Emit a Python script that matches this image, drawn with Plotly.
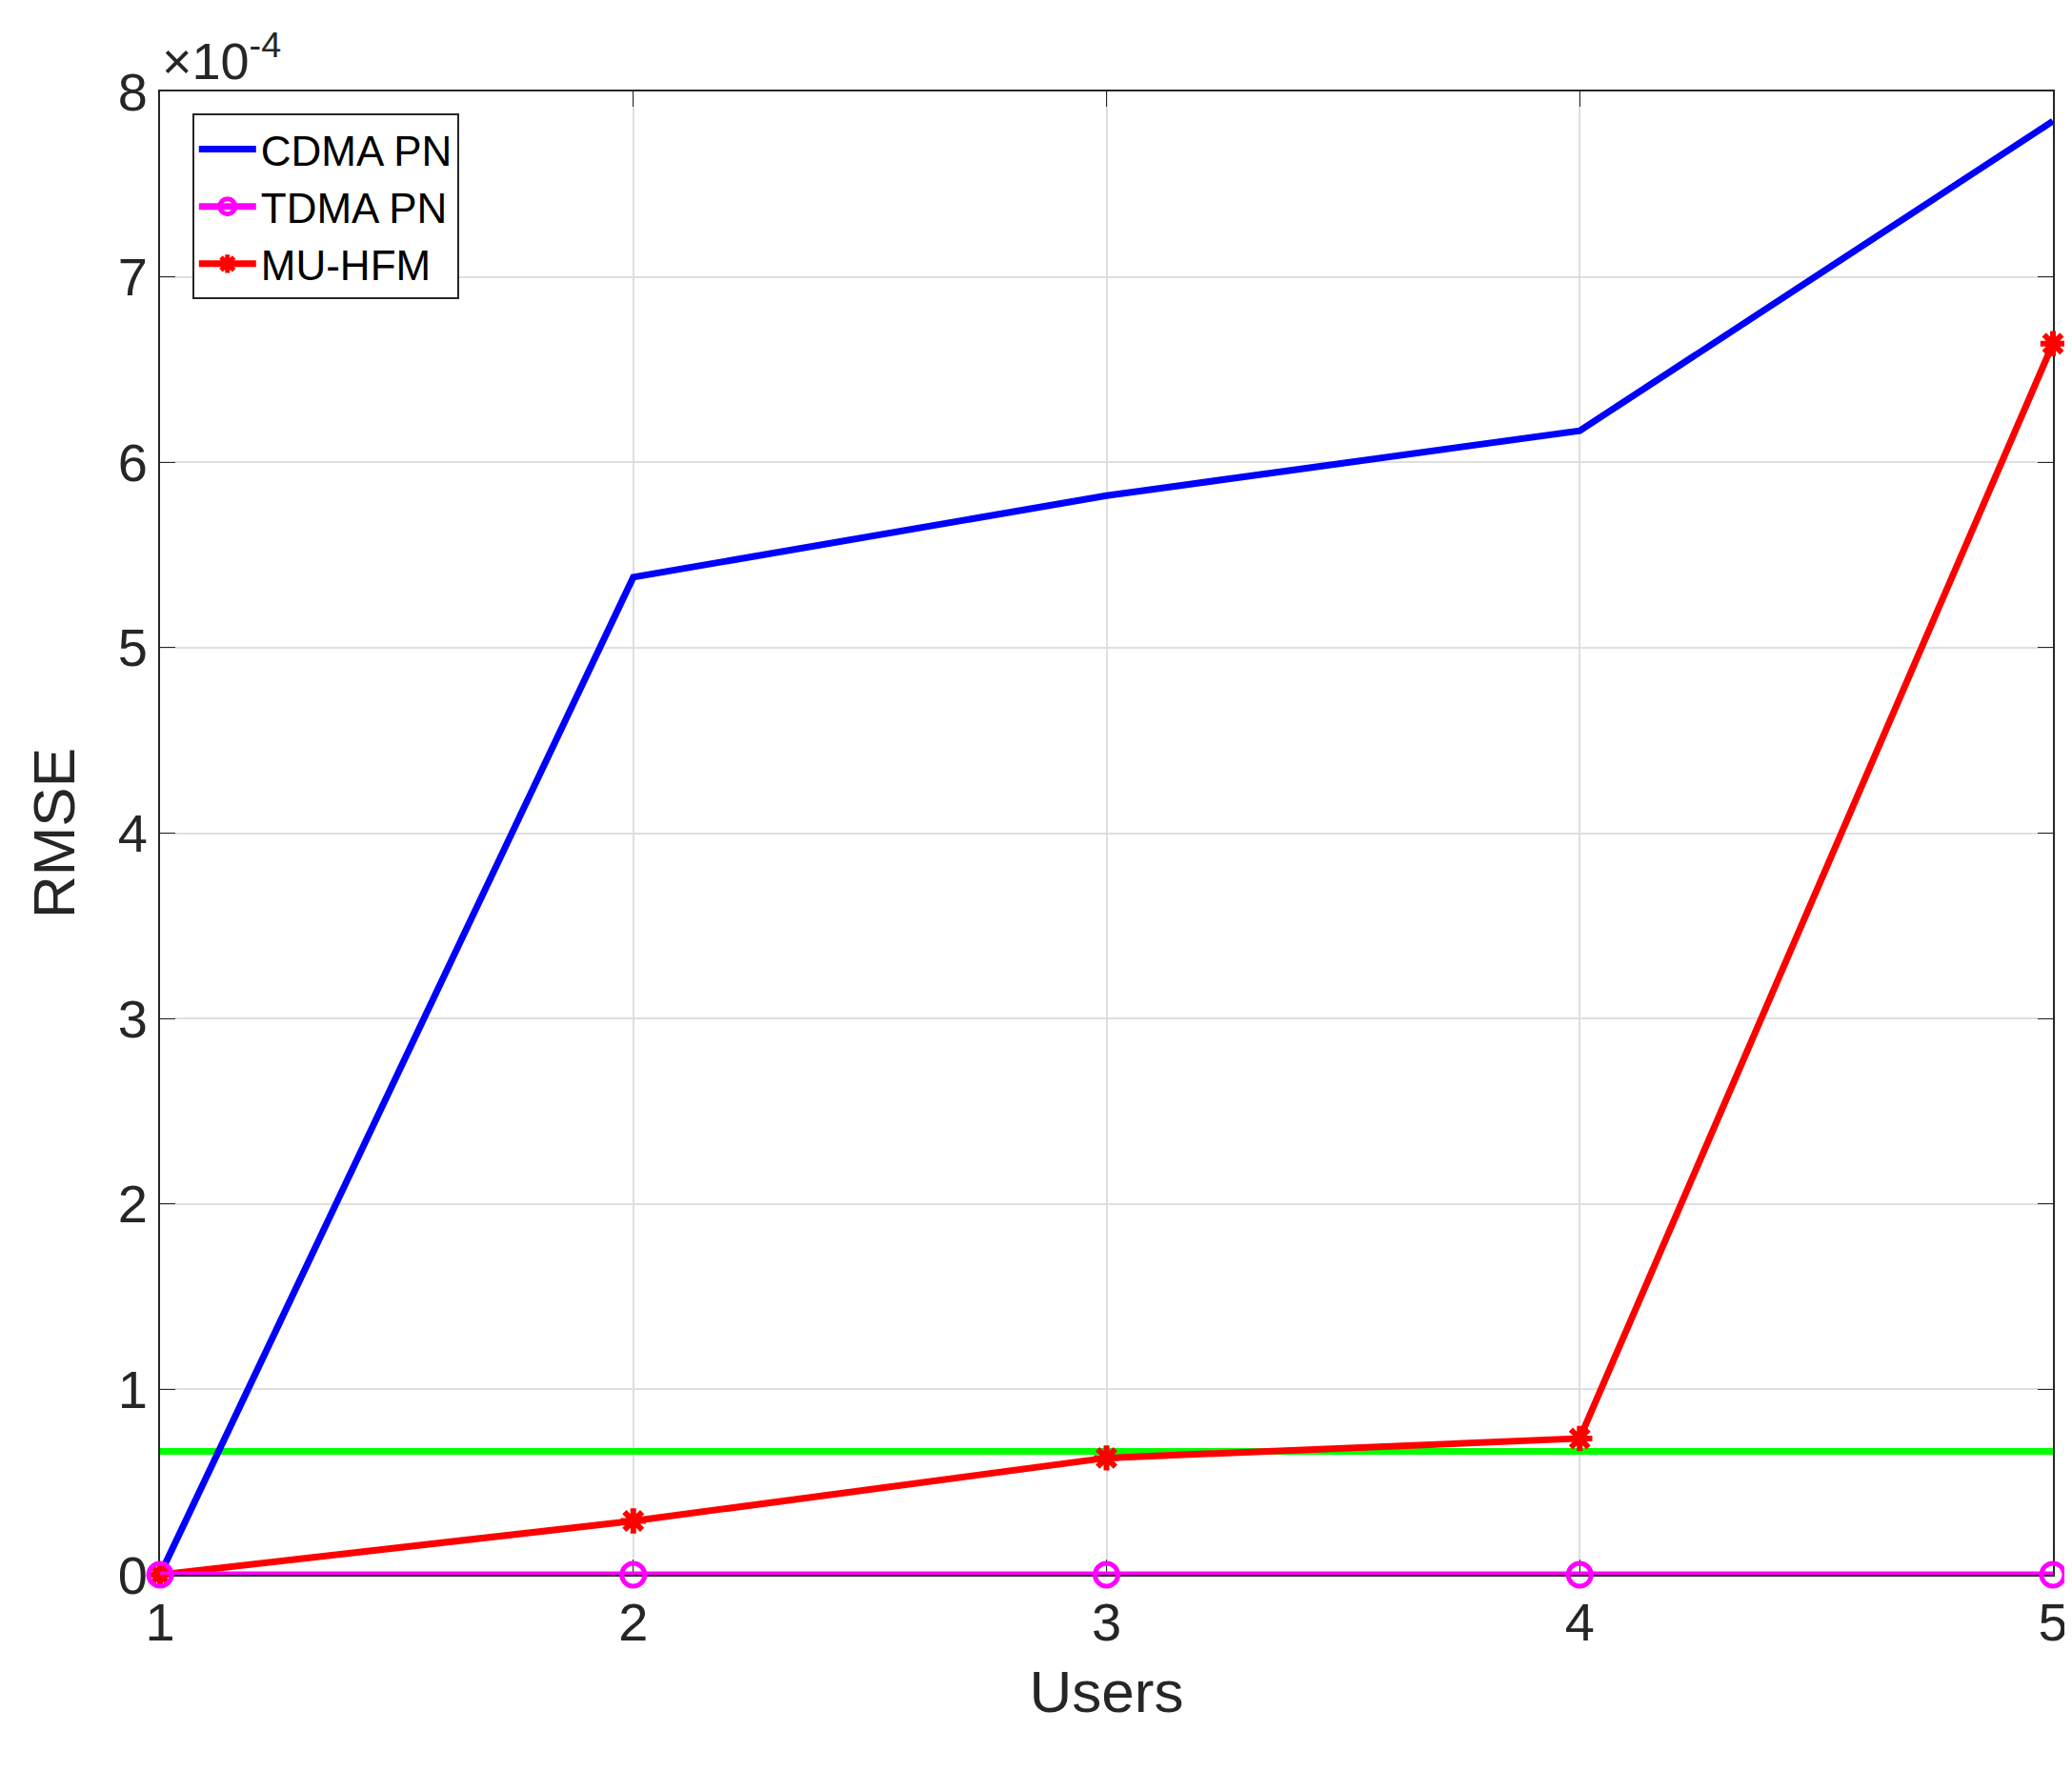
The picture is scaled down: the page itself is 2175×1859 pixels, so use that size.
import plotly.graph_objects as go

users = [1, 2, 3, 4, 5]
cdma = [0.0, 5.38e-4, 5.82e-4, 6.17e-4, 7.84e-4]
tdma = [0.0, 0.0, 0.0, 0.0, 0.0]
muhfm = [0.0, 0.29e-4, 0.63e-4, 0.735e-4, 6.64e-4]
green_level = 0.665e-4
ytick_vals = [i * 1e-4 for i in range(9)]
ytick_text = [str(i) for i in range(9)]

fig = go.Figure()
fig.add_trace(go.Scatter(x=[1, 5], y=[green_level, green_level], mode="lines",
                         line=dict(color="#00ff00", width=7), showlegend=False, cliponaxis=False))
fig.add_trace(go.Scatter(x=users, y=cdma, mode="lines", name="CDMA PN", cliponaxis=False,
                         line=dict(color="#0000ff", width=7)))
fig.add_trace(go.Scatter(x=users, y=muhfm, mode="lines+markers", name="MU-HFM", cliponaxis=False,
                         line=dict(color="#ff0000", width=7),
                         marker=dict(symbol="asterisk", size=22, color="#ff0000",
                                     line=dict(color="#ff0000", width=6))))
fig.add_trace(go.Scatter(x=users, y=tdma, mode="lines+markers", name="TDMA PN", cliponaxis=False,
                         line=dict(color="#ff00ff", width=7),
                         marker=dict(symbol="circle-open", size=24, color="#ff00ff",
                                     line=dict(color="#ff00ff", width=5))))
fig.data[1].legendrank = 1
fig.data[3].legendrank = 2
fig.data[2].legendrank = 3

font = dict(family="Liberation Sans, Arial", size=56, color="#262626")
fig.update_layout(
    width=2175, height=1859, plot_bgcolor="white", paper_bgcolor="white",
    margin=dict(l=160, r=28, t=88, b=214),
    font=font,
    xaxis=dict(range=[1, 5], tickvals=users, showgrid=True, gridcolor="#dfdfdf", gridwidth=2,
               showline=True, mirror="ticks", linecolor="#262626", linewidth=2,
               ticks="inside", ticklen=16, tickcolor="#262626", zeroline=False, layer="below traces",
               title=dict(text="Users", font=dict(size=62), standoff=20)),
    yaxis=dict(range=[0, 8e-4], tickvals=ytick_vals, ticktext=ytick_text,
               showgrid=True, gridcolor="#dfdfdf", gridwidth=2,
               showline=True, mirror="ticks", linecolor="#262626", linewidth=2,
               ticks="inside", ticklen=16, tickcolor="#262626", zeroline=False, layer="below traces",
               title=dict(text="RMSE", font=dict(size=62), standoff=25)),
    legend=dict(x=0.017, y=0.985, xanchor="left", yanchor="top",
                bgcolor="white", bordercolor="#262626", borderwidth=2,
                font=dict(size=44, color="black"), tracegroupgap=0, itemwidth=60),
    annotations=[dict(text="×10<sup>-4</sup>", xref="paper", yref="paper", x=0, y=1.0,
                      xanchor="left", yanchor="bottom", showarrow=False,
                      font=dict(size=54, color="#262626"))],
)
fig.write_html("out.html")
